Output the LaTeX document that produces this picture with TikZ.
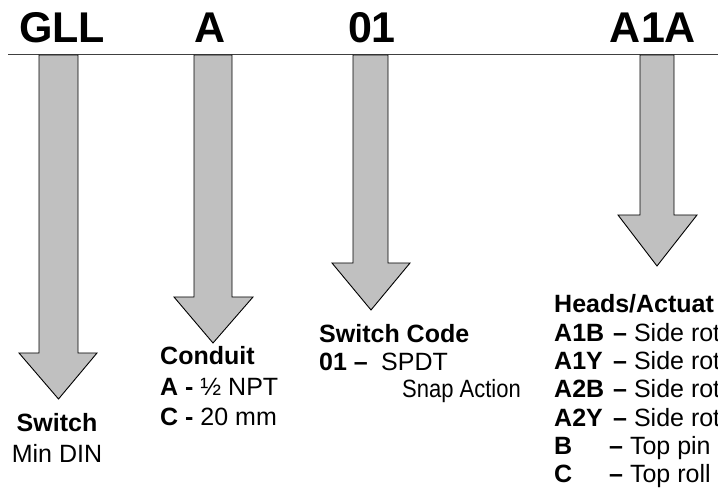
\documentclass[tikz,border=0pt]{standalone}
\usepackage{fontspec}
\setmainfont{Liberation Sans}
\definecolor{arrgray}{HTML}{C0C0C0}
\definecolor{rulegray}{HTML}{404040}
\begin{document}
\begin{tikzpicture}[x=1pt,y=-1pt,
  arr/.style={fill=arrgray,draw=black,line width=0.9pt,line join=miter},
  rule/.style={draw=rulegray,line width=1.4pt},
  code/.style={font=\fontsize{43}{43}\selectfont\bfseries,inner sep=0pt,anchor=base},
  txt/.style={font=\fontsize{25}{29}\selectfont,inner sep=0pt,anchor=base west},
  btxt/.style={font=\fontsize{25}{29}\selectfont\bfseries,inner sep=0pt,anchor=base west}]
\useasboundingbox (0,0) rectangle (718,502);
\clip (0,0) rectangle (718,502);
% rule
\coordinate (rl) at (8,54.5);
\coordinate (rr) at (718,54.5);
\draw[rule] (rl) -- (rr);
% arrows
\draw[arr] (39,55) -- (78,55) -- (78,353) -- (97,353) -- (58.5,399) -- (19,353) -- (39,353) -- cycle;
\draw[arr] (194,55) -- (232,55) -- (232,297) -- (253,297) -- (213,343) -- (174,297) -- (194,297) -- cycle;
\draw[arr] (353,55) -- (388,55) -- (388,263) -- (410,263) -- (371,310) -- (332,263) -- (353,263) -- cycle;
\draw[arr] (640,55) -- (674,55) -- (674,215) -- (697,215) -- (657,266) -- (618,215) -- (640,215) -- cycle;
% codes
\node[code] (gll) at (62,43) {GLL};
\node[code] (ca) at (210,43) {A};
\node[code] (c01) at (372,43) {01};
\node[code] (ca1a) at (653,43) {A1A};
% switch
\node[btxt,anchor=base] (sw) at (57,432) {Switch};
\node[txt,anchor=base] (swd) at (57,463) {Min DIN};
% conduit
\node[btxt] (cond) at (160,365) {Conduit};
\node[txt] (conda) at (160,396) {\textbf{A -} ½ NPT};
\node[txt] (condc) at (160,426) {\textbf{C -} 20 mm};
% switch code
\node[btxt] (swc) at (319,343) {Switch Code};
\node[btxt] (swc1) at (319,371) {01 –};
\node[txt] (swc1d) at (381,371) {SPDT};
\node[txt,xscale=0.88,transform shape] (swc2d) at (402,398) {Snap Action};
% heads
\node[btxt] (hd) at (554,313) {Heads/Actuat};
\node[btxt] (h1) at (554,341.5) {A1B};
\node[txt] (h1d) at (613,341.5) {\textbf{–} Side rot};
\node[btxt] (h2) at (554,370) {A1Y};
\node[txt] (h2d) at (613,370) {\textbf{–} Side rot};
\node[btxt] (h3) at (554,398) {A2B};
\node[txt] (h3d) at (613,398) {\textbf{–} Side rot};
\node[btxt] (h4) at (554,426.5) {A2Y};
\node[txt] (h4d) at (613,426.5) {\textbf{–} Side rot};
\node[btxt] (h5) at (554,455) {B};
\node[txt] (h5d) at (609,455) {\textbf{–} Top pin};
\node[btxt] (h6) at (554,483) {C};
\node[txt] (h6d) at (609,483) {\textbf{–} Top roll};
\end{tikzpicture}
\end{document}
